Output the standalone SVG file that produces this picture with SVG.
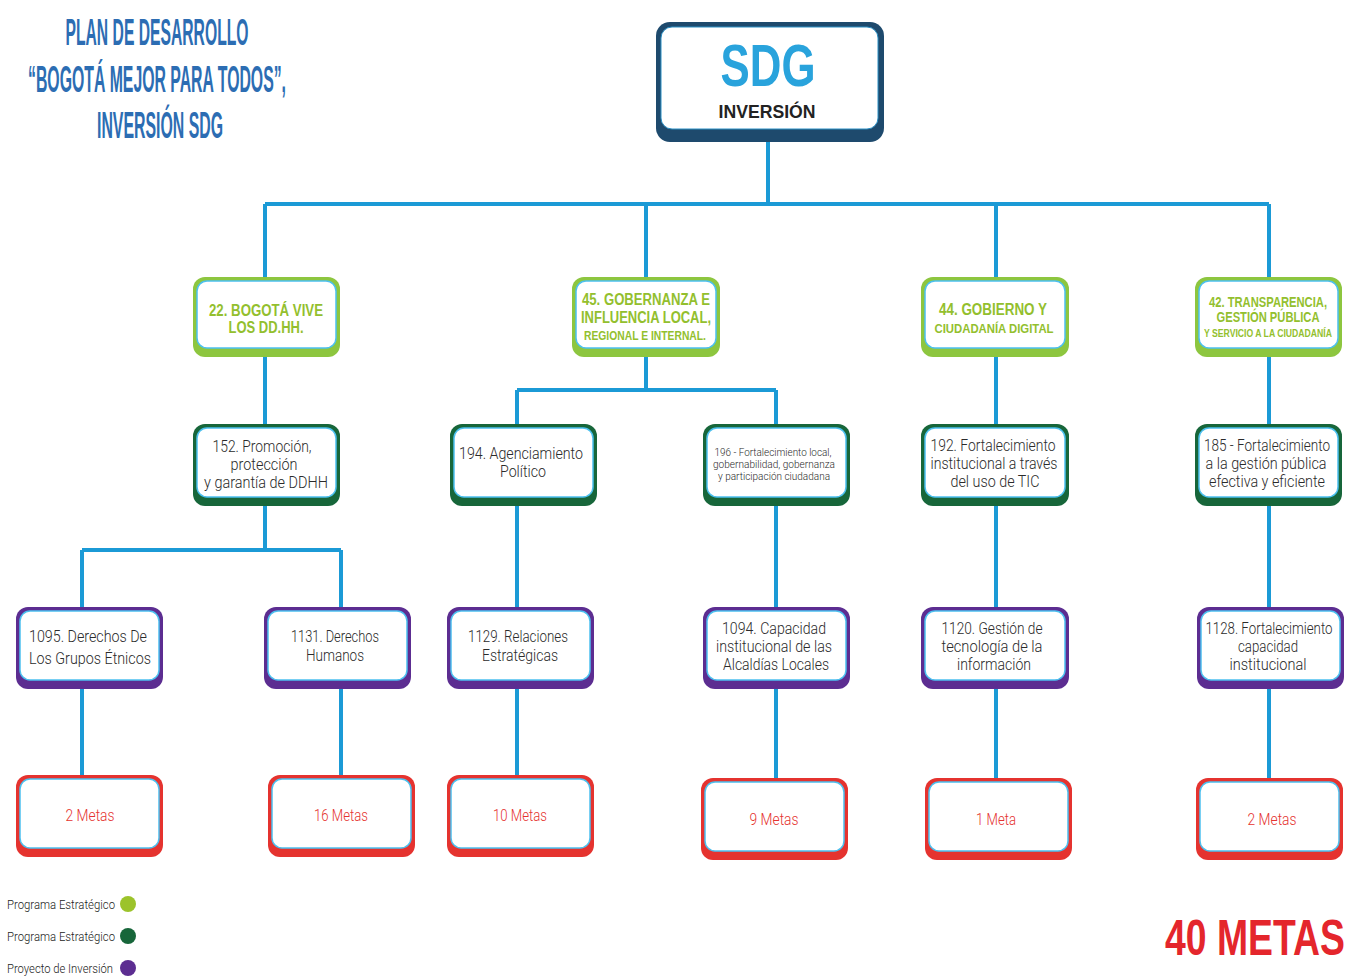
<svg xmlns="http://www.w3.org/2000/svg" width="1347" height="977" viewBox="0 0 1347 977">
<style>
.bg{fill:#fff}
.c{stroke:#1b9ad6;stroke-width:4;fill:none}
.o1{fill:#8dc63f}
.o2{fill:#17663a}
.o3{fill:#5c2d91}
.o4{fill:#e5332f}
.o0{fill:#1e4a6d}
.in{fill:#fff;stroke:#4cc0ef;stroke-width:1.5}
.t1{font-family:"Liberation Sans",Arial,sans-serif;font-weight:bold;fill:#93bf2e;text-anchor:middle}
.tb{font-family:Roboto,"Liberation Sans",Arial,sans-serif;font-weight:300;fill:#2b2b2b;text-anchor:middle}
.t4{font-family:Roboto,"Liberation Sans",Arial,sans-serif;font-weight:300;fill:#e5332f;text-anchor:middle;font-size:17px}
.title{font-family:"Liberation Sans",Arial,sans-serif;font-weight:bold;fill:#2c6db3;text-anchor:middle;font-size:36px}
.lg{font-family:Roboto,"Liberation Sans",Arial,sans-serif;font-weight:300;fill:#222;font-size:12px}
</style>
<rect class="bg" x="0" y="0" width="1347" height="977"/>

<g id="title">
<text class="title" x="157" y="45" textLength="183" lengthAdjust="spacingAndGlyphs">PLAN DE DESARROLLO</text>
<text class="title" x="157" y="92" textLength="258" lengthAdjust="spacingAndGlyphs">“BOGOTÁ MEJOR PARA TODOS”,</text>
<text class="title" x="160" y="138" textLength="126" lengthAdjust="spacingAndGlyphs">INVERSIÓN SDG</text>
</g>

<g id="connectors">
<path class="c" d="M768 140V204M265 204H1269M265 204V280M646 204V280M996 204V280M1269 204V280"/>
<path class="c" d="M265 355V426M646 355V390M517 390H776M517 390V426M776 390V426M996 355V426M1269 355V426"/>
<path class="c" d="M265 504V550M82 550H341M82 550V609M341 550V609M517 504V609M776 504V609M996 504V609M1269 504V609"/>
<path class="c" d="M82 687V777M341 687V777M517 687V777M776 687V780M996 687V780M1269 687V780"/>
</g>

<g id="sdg">
<rect class="o0" x="656" y="22" width="228" height="120" rx="14"/>
<rect fill="#fff" stroke="#2a8fc4" stroke-width="1" x="661" y="27" width="217" height="102" rx="11"/>
<text x="768" y="86" font-family="Liberation Sans,Arial,sans-serif" font-weight="bold" font-size="60" fill="#29a3dc" text-anchor="middle" textLength="95" lengthAdjust="spacingAndGlyphs">SDG</text>
<text x="767" y="118" font-family="Liberation Sans,Arial,sans-serif" font-weight="bold" font-size="19" fill="#222" text-anchor="middle" textLength="97" lengthAdjust="spacingAndGlyphs">INVERSIÓN</text>
</g>

<!-- Level 1 -->
<g id="n22">
<rect class="o1" x="193" y="277" width="147" height="80" rx="12"/>
<rect class="in" x="197" y="281" width="139" height="67" rx="10"/>
<text class="t1" x="266" y="316" font-size="16" textLength="114" lengthAdjust="spacingAndGlyphs">22. BOGOTÁ VIVE</text>
<text class="t1" x="266" y="333" font-size="16" textLength="75" lengthAdjust="spacingAndGlyphs">LOS DD.HH.</text>
</g>
<g id="n45">
<rect class="o1" x="572" y="277" width="148" height="80" rx="12"/>
<rect class="in" x="576" y="281" width="140" height="67" rx="10"/>
<text class="t1" x="646" y="305" font-size="16" textLength="128" lengthAdjust="spacingAndGlyphs">45. GOBERNANZA E</text>
<text class="t1" x="646" y="323" font-size="16" textLength="130" lengthAdjust="spacingAndGlyphs">INFLUENCIA LOCAL,</text>
<text class="t1" x="645" y="340" font-size="12" textLength="122" lengthAdjust="spacingAndGlyphs">REGIONAL E INTERNAL.</text>
</g>
<g id="n44">
<rect class="o1" x="921" y="277" width="148" height="80" rx="12"/>
<rect class="in" x="925" y="281" width="140" height="67" rx="10"/>
<text class="t1" x="993" y="315" font-size="16" textLength="108" lengthAdjust="spacingAndGlyphs">44. GOBIERNO Y</text>
<text class="t1" x="994" y="333" font-size="13" textLength="119" lengthAdjust="spacingAndGlyphs">CIUDADANÍA DIGITAL</text>
</g>
<g id="n42">
<rect class="o1" x="1195" y="277" width="147" height="80" rx="12"/>
<rect class="in" x="1199" y="281" width="139" height="67" rx="10"/>
<text class="t1" x="1268" y="307" font-size="14" textLength="118" lengthAdjust="spacingAndGlyphs">42. TRANSPARENCIA,</text>
<text class="t1" x="1268" y="322" font-size="14" textLength="103" lengthAdjust="spacingAndGlyphs">GESTIÓN PÚBLICA</text>
<text class="t1" x="1268" y="337" font-size="11" textLength="128" lengthAdjust="spacingAndGlyphs">Y SERVICIO A LA CIUDADANÍA</text>
</g>

<!-- Level 2 -->
<g id="n152">
<rect class="o2" x="193" y="424" width="147" height="82" rx="12"/>
<rect class="in" x="197" y="428" width="139" height="69" rx="10"/>
<text class="tb" x="262" y="452" font-size="17" textLength="99" lengthAdjust="spacingAndGlyphs">152. Promoción,</text>
<text class="tb" x="264" y="470" font-size="17" textLength="67" lengthAdjust="spacingAndGlyphs">protección</text>
<text class="tb" x="266" y="488" font-size="17" textLength="124" lengthAdjust="spacingAndGlyphs">y garantía de DDHH</text>
</g>
<g id="n194">
<rect class="o2" x="450" y="424" width="147" height="82" rx="12"/>
<rect class="in" x="454" y="428" width="139" height="69" rx="10"/>
<text class="tb" x="521" y="459" font-size="17" textLength="124" lengthAdjust="spacingAndGlyphs">194.  Agenciamiento</text>
<text class="tb" x="523" y="477" font-size="17" textLength="46" lengthAdjust="spacingAndGlyphs">Político</text>
</g>
<g id="n196">
<rect class="o2" x="703" y="424" width="147" height="82" rx="12"/>
<rect class="in" x="707" y="428" width="139" height="69" rx="10"/>
<text class="tb" x="773" y="456" font-size="11" textLength="117" lengthAdjust="spacingAndGlyphs">196 - Fortalecimiento local,</text>
<text class="tb" x="774" y="468" font-size="11" textLength="122" lengthAdjust="spacingAndGlyphs">gobernabilidad, gobernanza</text>
<text class="tb" x="774" y="480" font-size="11" textLength="112" lengthAdjust="spacingAndGlyphs">y participación ciudadana</text>
</g>
<g id="n192">
<rect class="o2" x="921" y="424" width="148" height="82" rx="12"/>
<rect class="in" x="925" y="428" width="140" height="69" rx="10"/>
<text class="tb" x="993" y="451" font-size="17" textLength="125" lengthAdjust="spacingAndGlyphs">192. Fortalecimiento</text>
<text class="tb" x="994" y="469" font-size="17" textLength="127" lengthAdjust="spacingAndGlyphs">institucional a través</text>
<text class="tb" x="995" y="487" font-size="17" textLength="89" lengthAdjust="spacingAndGlyphs">del uso de TIC</text>
</g>
<g id="n185">
<rect class="o2" x="1195" y="424" width="147" height="82" rx="12"/>
<rect class="in" x="1199" y="428" width="139" height="69" rx="10"/>
<text class="tb" x="1267" y="451" font-size="17" textLength="126" lengthAdjust="spacingAndGlyphs">185 - Fortalecimiento</text>
<text class="tb" x="1266" y="469" font-size="17" textLength="121" lengthAdjust="spacingAndGlyphs">a la gestión pública</text>
<text class="tb" x="1267" y="487" font-size="17" textLength="116" lengthAdjust="spacingAndGlyphs">efectiva y eficiente</text>
</g>

<!-- Level 3 -->
<g id="n1095">
<rect class="o3" x="16" y="607" width="147" height="82" rx="12"/>
<rect class="in" x="20" y="611" width="139" height="69" rx="10"/>
<text class="tb" x="88" y="642" font-size="17" textLength="118" lengthAdjust="spacingAndGlyphs">1095. Derechos De</text>
<text class="tb" x="90" y="664" font-size="17" textLength="122" lengthAdjust="spacingAndGlyphs">Los Grupos Étnicos</text>
</g>
<g id="n1131">
<rect class="o3" x="264" y="607" width="147" height="82" rx="12"/>
<rect class="in" x="268" y="611" width="139" height="69" rx="10"/>
<text class="tb" x="335" y="642" font-size="17" textLength="88" lengthAdjust="spacingAndGlyphs">1131. Derechos</text>
<text class="tb" x="335" y="661" font-size="17" textLength="58" lengthAdjust="spacingAndGlyphs">Humanos</text>
</g>
<g id="n1129">
<rect class="o3" x="447" y="607" width="147" height="82" rx="12"/>
<rect class="in" x="451" y="611" width="139" height="69" rx="10"/>
<text class="tb" x="518" y="642" font-size="17" textLength="100" lengthAdjust="spacingAndGlyphs">1129. Relaciones</text>
<text class="tb" x="520" y="661" font-size="17" textLength="76" lengthAdjust="spacingAndGlyphs">Estratégicas</text>
</g>
<g id="n1094">
<rect class="o3" x="703" y="607" width="147" height="82" rx="12"/>
<rect class="in" x="707" y="611" width="139" height="69" rx="10"/>
<text class="tb" x="774" y="634" font-size="17" textLength="104" lengthAdjust="spacingAndGlyphs">1094. Capacidad</text>
<text class="tb" x="774" y="652" font-size="17" textLength="116" lengthAdjust="spacingAndGlyphs">institucional de las</text>
<text class="tb" x="776" y="670" font-size="17" textLength="106" lengthAdjust="spacingAndGlyphs">Alcaldías Locales</text>
</g>
<g id="n1120">
<rect class="o3" x="921" y="607" width="148" height="82" rx="12"/>
<rect class="in" x="925" y="611" width="140" height="69" rx="10"/>
<text class="tb" x="992" y="634" font-size="17" textLength="101" lengthAdjust="spacingAndGlyphs">1120. Gestión de</text>
<text class="tb" x="992" y="652" font-size="17" textLength="101" lengthAdjust="spacingAndGlyphs">tecnología de la</text>
<text class="tb" x="994" y="670" font-size="17" textLength="74" lengthAdjust="spacingAndGlyphs">información</text>
</g>
<g id="n1128">
<rect class="o3" x="1197" y="607" width="147" height="82" rx="12"/>
<rect class="in" x="1201" y="611" width="139" height="69" rx="10"/>
<text class="tb" x="1269" y="634" font-size="17" textLength="127" lengthAdjust="spacingAndGlyphs">1128. Fortalecimiento</text>
<text class="tb" x="1268" y="652" font-size="17" textLength="60" lengthAdjust="spacingAndGlyphs">capacidad</text>
<text class="tb" x="1268" y="670" font-size="17" textLength="77" lengthAdjust="spacingAndGlyphs">institucional</text>
</g>

<!-- Level 4 -->
<g id="m1">
<rect class="o4" x="16" y="775" width="147" height="82" rx="12"/>
<rect class="in" x="20" y="779" width="139" height="69" rx="10"/>
<text class="t4" x="90" y="821" textLength="49" lengthAdjust="spacingAndGlyphs">2 Metas</text>
</g>
<g id="m2">
<rect class="o4" x="268" y="775" width="147" height="82" rx="12"/>
<rect class="in" x="272" y="779" width="139" height="69" rx="10"/>
<text class="t4" x="341" y="821" textLength="54" lengthAdjust="spacingAndGlyphs">16 Metas</text>
</g>
<g id="m3">
<rect class="o4" x="447" y="775" width="147" height="82" rx="12"/>
<rect class="in" x="451" y="779" width="139" height="69" rx="10"/>
<text class="t4" x="520" y="821" textLength="54" lengthAdjust="spacingAndGlyphs">10 Metas</text>
</g>
<g id="m4">
<rect class="o4" x="701" y="778" width="147" height="82" rx="12"/>
<rect class="in" x="705" y="782" width="139" height="69" rx="10"/>
<text class="t4" x="774" y="825" textLength="49" lengthAdjust="spacingAndGlyphs">9 Metas</text>
</g>
<g id="m5">
<rect class="o4" x="925" y="778" width="147" height="82" rx="12"/>
<rect class="in" x="929" y="782" width="139" height="69" rx="10"/>
<text class="t4" x="996" y="825" textLength="40" lengthAdjust="spacingAndGlyphs">1 Meta</text>
</g>
<g id="m6">
<rect class="o4" x="1196" y="778" width="147" height="82" rx="12"/>
<rect class="in" x="1200" y="782" width="139" height="69" rx="10"/>
<text class="t4" x="1272" y="825" textLength="49" lengthAdjust="spacingAndGlyphs">2 Metas</text>
</g>

<g id="legend">
<text class="lg" x="7" y="909" textLength="108" lengthAdjust="spacingAndGlyphs">Programa  Estratégico</text>
<circle cx="128" cy="904" r="8" fill="#9cc32b"/>
<text class="lg" x="7" y="941" textLength="108" lengthAdjust="spacingAndGlyphs">Programa  Estratégico</text>
<circle cx="128" cy="936" r="8" fill="#17663a"/>
<text class="lg" x="7" y="973" textLength="106" lengthAdjust="spacingAndGlyphs">Proyecto de Inversión</text>
<circle cx="128" cy="968" r="8" fill="#5c2d91"/>
</g>

<g id="total">
<text x="1255" y="955" font-family="Liberation Sans,Arial,sans-serif" font-weight="bold" font-size="50" fill="#e4262c" text-anchor="middle" textLength="180" lengthAdjust="spacingAndGlyphs">40 METAS</text>
</g>
</svg>
